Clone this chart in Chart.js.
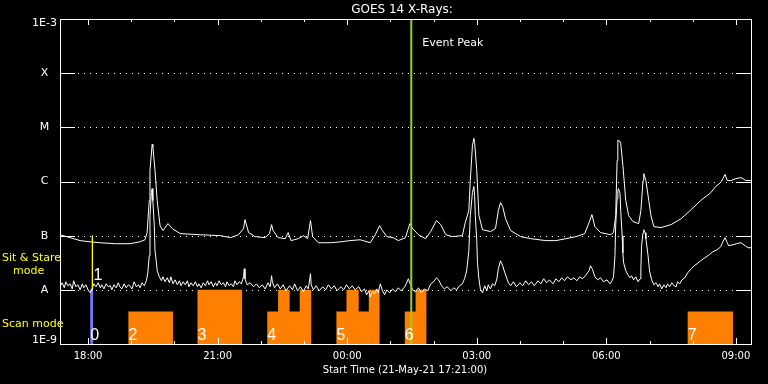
<!DOCTYPE html>
<html>
<head>
<meta charset="utf-8">
<title>GOES 14 X-Rays</title>
<script src="https://cdn.jsdelivr.net/npm/chart.js@4/dist/chart.umd.min.js"></script>
<style>
  html, body { margin: 0; padding: 0; background: #000; }
  #wrap { width: 768px; height: 384px; position: relative; }
</style>
</head>
<body>
<div id="wrap"><canvas id="chartGoes"></canvas></div>
<script>
(function () {
  // time axis: minutes after the start time 21-May-21 17:21:00
  const startLabel = "Start Time (21-May-21 17:21:00)";
  const spanMin = 960;

  // [minutes, W/m^2] - 1-8 A channel (upper curve)
  const longChannel = [[0,1.04e-7],[14,9.2e-8],[28,8.1e-8],[42,7.7e-8],[56,7.4e-8],[77,7.1e-8],[97,7.1e-8],[111,7.7e-8],[118,8.4e-8],[121,1.14e-7],[124,4.45e-7],[125,1.59e-6],[128,4.84e-6],[129,4.4e-6],[132,1.59e-6],[135,4.45e-7],[139,1.53e-7],[143,1.24e-7],[150,1.67e-7],[156,1.35e-7],[167,1.09e-7],[195,1.04e-7],[223,1.0e-7],[237,9.2e-8],[248,1.04e-7],[255,1.35e-7],[257,1.98e-7],[262,1.14e-7],[271,9.6e-8],[285,9.2e-8],[291,1.09e-7],[294,1.6e-7],[296,1.24e-7],[303,9.2e-8],[313,8.8e-8],[317,1.14e-7],[321,8.1e-8],[331,8.8e-8],[338,1.0e-7],[344,8.8e-8],[348,1.9e-7],[351,9.6e-8],[359,7.4e-8],[376,7.4e-8],[390,7.7e-8],[403,8.1e-8],[417,8.4e-8],[431,7.4e-8],[438,1.04e-7],[444,1.53e-7],[448,1.24e-7],[454,9.6e-8],[463,9.2e-8],[470,8.1e-8],[480,9.2e-8],[486,1.67e-7],[490,1.35e-7],[498,1.04e-7],[508,8.8e-8],[515,1.19e-7],[523,1.9e-7],[529,1.6e-7],[536,1.04e-7],[545,9.6e-8],[559,1.0e-7],[563,1.74e-7],[568,2.9e-7],[570,1.04e-6],[573,4.64e-6],[575,6.26e-6],[576,5.27e-6],[579,1.59e-6],[582,2.35e-7],[587,1.29e-7],[598,1.19e-7],[605,1.35e-7],[609,2.9e-7],[612,4.08e-7],[615,3.44e-7],[619,2.06e-7],[626,1.24e-7],[640,9.6e-8],[654,8.8e-8],[675,8.1e-8],[689,8.1e-8],[703,8.8e-8],[717,9.6e-8],[729,1.09e-7],[735,1.74e-7],[739,2.45e-7],[743,1.47e-7],[751,1.14e-7],[765,1.04e-7],[769,1.14e-7],[772,2.35e-7],[774,2.44e-6],[775,5.75e-6],[778,5.5e-6],[779,5.0e-6],[782,1.99e-6],[786,4.45e-7],[790,2.35e-7],[796,1.82e-7],[804,1.67e-7],[807,2.9e-7],[810,1.04e-6],[811,1.4e-6],[814,1.04e-6],[818,4.45e-7],[821,2.35e-7],[825,1.47e-7],[835,1.41e-7],[849,1.6e-7],[863,2.06e-7],[877,3.03e-7],[890,4.45e-7],[904,6.2e-7],[911,8.1e-7],[918,9.6e-7],[921,1.13e-6],[924,1.35e-6],[927,1.04e-6],[932,1.04e-6],[939,1.13e-6],[946,1.18e-6],[953,1.04e-6],[960,1.04e-6]];

  // [minutes, W/m^2] - 0.5-4 A channel (lower curve)
  const shortChannel = [[0,1.14e-8],[3,1.35e-8],[6,1.09e-8],[8,1.41e-8],[11,1.19e-8],[14,1.29e-8],[17,1.04e-8],[19,1.47e-8],[22,1.14e-8],[25,1.24e-8],[28,1.0e-8],[31,1.29e-8],[33,1.09e-8],[36,1.24e-8],[39,1.0e-8],[42,8.8e-9],[45,1.09e-8],[47,1.29e-8],[50,1.14e-8],[53,1.35e-8],[56,1.09e-8],[58,1.24e-8],[61,1.04e-8],[64,1.29e-8],[67,1.14e-8],[70,1.19e-8],[72,1.0e-8],[75,1.24e-8],[78,1.09e-8],[81,1.35e-8],[83,1.14e-8],[86,1.04e-8],[89,1.29e-8],[92,1.09e-8],[95,1.24e-8],[97,1.19e-8],[100,1.04e-8],[103,1.41e-8],[106,1.14e-8],[109,1.24e-8],[111,1.09e-8],[114,1.35e-8],[117,1.19e-8],[120,1.47e-8],[122,2.06e-8],[124,4.26e-8],[125,2.35e-7],[127,6.26e-7],[128,7.4e-7],[129,4.44e-7],[131,1.53e-7],[132,5.27e-8],[134,3.16e-8],[135,2.25e-8],[138,1.74e-8],[141,1.47e-8],[143,1.74e-8],[146,1.41e-8],[149,1.67e-8],[152,1.35e-8],[154,1.74e-8],[157,1.29e-8],[160,1.53e-8],[163,1.24e-8],[166,1.47e-8],[168,1.19e-8],[171,1.41e-8],[174,1.24e-8],[177,1.47e-8],[179,1.14e-8],[182,1.35e-8],[185,1.19e-8],[188,1.41e-8],[191,1.14e-8],[193,1.29e-8],[196,1.09e-8],[199,1.35e-8],[202,1.19e-8],[205,1.47e-8],[207,1.24e-8],[210,1.41e-8],[213,1.14e-8],[216,1.35e-8],[218,1.19e-8],[221,1.47e-8],[224,1.24e-8],[227,1.35e-8],[230,1.14e-8],[232,1.41e-8],[235,1.19e-8],[238,1.29e-8],[241,1.14e-8],[243,1.47e-8],[246,1.24e-8],[249,1.41e-8],[252,1.29e-8],[255,1.74e-8],[256,2.45e-8],[257,1.6e-8],[260,1.24e-8],[264,1.35e-8],[269,1.14e-8],[273,1.29e-8],[277,1.09e-8],[281,1.24e-8],[285,1.04e-8],[289,1.35e-8],[292,1.14e-8],[294,1.82e-8],[295,1.41e-8],[298,1.09e-8],[302,1.29e-8],[306,1.04e-8],[310,1.24e-8],[314,9.6e-9],[319,1.19e-8],[323,1.0e-8],[326,1.29e-8],[330,9.6e-9],[334,1.14e-8],[338,9.2e-9],[342,1.19e-8],[345,1.04e-8],[348,1.98e-8],[349,1.24e-8],[352,1.0e-8],[356,1.19e-8],[360,9.6e-9],[365,1.14e-8],[369,1.0e-8],[373,1.24e-8],[377,1.04e-8],[381,1.19e-8],[385,9.6e-9],[390,1.14e-8],[394,1.0e-8],[398,1.24e-8],[402,1.04e-8],[406,1.19e-8],[410,1.0e-8],[415,1.14e-8],[419,9.2e-9],[423,1.04e-8],[426,8.1e-9],[429,9.6e-9],[431,7.4e-9],[434,9.2e-9],[437,8.4e-9],[440,1.04e-8],[442,8.8e-9],[445,1.29e-8],[448,9.6e-9],[451,8.1e-9],[454,1.0e-8],[458,8.8e-9],[462,1.04e-8],[466,9.2e-9],[470,1.09e-8],[474,9.6e-9],[479,1.14e-8],[481,1.29e-8],[484,1.6e-8],[487,1.24e-8],[490,1.0e-8],[494,9.2e-9],[498,1.09e-8],[502,8.8e-9],[506,1.04e-8],[511,9.6e-9],[515,1.29e-8],[519,1.41e-8],[523,1.67e-8],[526,1.53e-8],[530,1.19e-8],[534,1.04e-8],[538,1.14e-8],[543,9.6e-9],[547,1.09e-8],[551,1.0e-8],[555,1.19e-8],[559,1.29e-8],[562,1.6e-8],[565,2.25e-8],[568,5.27e-8],[570,2.35e-7],[573,6.26e-7],[575,8.06e-7],[576,5.5e-7],[577,2.35e-7],[579,8.08e-8],[580,3.16e-8],[582,1.6e-8],[584,1.04e-8],[587,8.8e-9],[590,1.19e-8],[593,9.6e-9],[595,1.24e-8],[598,1.04e-8],[601,1.29e-8],[604,1.19e-8],[607,1.6e-8],[609,2.45e-8],[612,3.44e-8],[615,2.78e-8],[618,2.06e-8],[621,1.6e-8],[623,1.35e-8],[626,1.19e-8],[630,1.41e-8],[634,1.14e-8],[639,1.35e-8],[643,1.19e-8],[647,1.47e-8],[651,1.24e-8],[655,1.41e-8],[659,1.19e-8],[664,1.47e-8],[668,1.29e-8],[672,1.6e-8],[676,1.35e-8],[680,1.53e-8],[685,1.29e-8],[689,1.6e-8],[693,1.41e-8],[697,1.67e-8],[701,1.47e-8],[705,1.74e-8],[710,1.53e-8],[714,1.67e-8],[718,1.47e-8],[722,1.74e-8],[726,1.6e-8],[730,1.82e-8],[735,2.25e-8],[737,2.78e-8],[740,2.35e-8],[743,1.74e-8],[747,1.53e-8],[751,1.67e-8],[755,1.41e-8],[760,1.53e-8],[764,1.29e-8],[767,1.47e-8],[769,1.74e-8],[771,4.26e-8],[772,1.53e-7],[774,4.84e-7],[775,6.81e-7],[776,7.4e-7],[778,6.0e-7],[779,2.9e-7],[781,1.0e-7],[782,4.84e-8],[783,3.16e-8],[786,2.25e-8],[789,1.9e-8],[792,1.67e-8],[794,1.82e-8],[797,1.53e-8],[800,1.74e-8],[803,1.41e-8],[806,1.6e-8],[807,2.45e-8],[808,6.52e-8],[810,1.13e-7],[811,1.29e-7],[813,1.13e-7],[814,8.79e-8],[817,4.26e-8],[819,2.25e-8],[822,1.53e-8],[825,1.24e-8],[828,1.35e-8],[831,1.14e-8],[833,1.29e-8],[836,1.04e-8],[839,1.24e-8],[842,1.09e-8],[844,1.29e-8],[847,1.14e-8],[850,1.35e-8],[853,1.19e-8],[856,1.14e-8],[858,1.41e-8],[861,1.29e-8],[864,1.53e-8],[868,1.67e-8],[872,2.06e-8],[877,2.45e-8],[881,2.78e-8],[885,3.03e-8],[890,3.44e-8],[896,3.91e-8],[902,4.45e-8],[907,5.05e-8],[913,5.5e-8],[918,6.25e-8],[921,7.74e-8],[924,9.18e-8],[927,7.42e-8],[929,6.52e-8],[935,6.81e-8],[940,7.11e-8],[946,7.42e-8],[952,6.52e-8],[956,5.99e-8],[960,5.99e-8]];

  // observing modes: [minutes, level]; level holds until next entry
  const scanMode = [[0,0],[95,0.6],[157,0],[191,1],[253,0],[288,0.6],[303,1],[319,0.6],[333,1],[349,0],[384,0.6],[398,1],[415,0.6],[429,1],[444,0],[479,0.6],[494,1],[509,0],[872,0.6],[935,0],[960,0]];
  const stareMode = [[0,0],[42,1],[46,0],[960,0]];
  const blockNums = ["0", "2", "3", "4", "5", "6", "7"];
  const blockStart = [42, 95, 191, 288, 384, 479, 872];

  const sitLineMin = 45;
  const sitLineNum = "1";
  const sitLineRange = [1e-7, 1e-8];
  const eventPeakMin = 488;

  const yTickValues = [1e-3, 1e-4, 1e-5, 1e-6, 1e-7, 1e-8, 1e-9];
  const yTickLabels = ["1E-3", "X", "M", "C", "B", "A", "1E-9"];
  const xTickMin = [39, 99, 159, 219, 279, 339, 399, 459, 519, 579, 639, 699, 759, 819, 879, 939];
  const xTickLabels = ["18:00", "", "", "21:00", "", "", "00:00", "", "", "03:00", "", "", "06:00", "", "", "09:00"];

  const WHITE = "#ffffff";
  const YELLOW = "#ffff00";
  const FONT = "'DejaVu Sans', sans-serif";

  function pts(arr) {
    return arr.map(function (p) { return { x: p[0], y: p[1] }; });
  }

  const goesAxes = {
    id: "goesAxes",
    beforeDatasetsDraw: function (chart) {
      const ctx = chart.ctx, a = chart.chartArea, ys = chart.scales.y;
      ctx.save();
      ctx.strokeStyle = WHITE;
      ctx.lineWidth = 1;
      ctx.setLineDash([1, 5]);
      yTickValues.slice(1, -1).forEach(function (v) {
        const y = Math.round(ys.getPixelForValue(v)) + 0.5;
        ctx.beginPath();
        ctx.moveTo(a.left + 18, y);
        ctx.lineTo(a.right - 15, y);
        ctx.stroke();
      });
      ctx.restore();
    },
    afterDatasetsDraw: function (chart) {
      const ctx = chart.ctx, a = chart.chartArea;
      const xs = chart.scales.x, ys = chart.scales.y;
      ctx.save();
      ctx.strokeStyle = WHITE;
      ctx.lineWidth = 1;

      // frame
      ctx.strokeRect(a.left + 0.5, a.top + 0.5, a.right - a.left, a.bottom - a.top);

      // y ticks on both sides
      yTickValues.slice(1, -1).forEach(function (v) {
        const y = Math.round(ys.getPixelForValue(v)) + 0.5;
        ctx.beginPath();
        ctx.moveTo(a.left, y); ctx.lineTo(a.left + 15, y);
        ctx.moveTo(a.right - 15, y); ctx.lineTo(a.right + 1, y);
        ctx.stroke();
      });

      // x ticks top and bottom
      xTickMin.forEach(function (m, i) {
        const x = Math.round(xs.getPixelForValue(m)) + 0.5;
        const len = xTickLabels[i] ? 6 : 3;
        ctx.beginPath();
        ctx.moveTo(x, a.bottom); ctx.lineTo(x, a.bottom - len);
        ctx.moveTo(x, a.top); ctx.lineTo(x, a.top + len);
        ctx.stroke();
      });

      ctx.fillStyle = WHITE;
      ctx.textBaseline = "middle";
      ctx.textAlign = "center";

      ctx.font = "10px " + FONT;
      xTickMin.forEach(function (m, i) {
        if (xTickLabels[i]) ctx.fillText(xTickLabels[i], xs.getPixelForValue(m), a.bottom + 12);
      });
      ctx.fillText(startLabel, 405, a.bottom + 26);

      ctx.font = "11px " + FONT;
      yTickValues.forEach(function (v, i) {
        const y = ys.getPixelForValue(v);
        ctx.textBaseline = i === 0 ? "top" : (i === yTickValues.length - 1 ? "bottom" : "middle");
        ctx.fillText(yTickLabels[i], 44.5, i === 0 ? y - 1 : (i === yTickValues.length - 1 ? y + 2 : y));
      });

      ctx.textBaseline = "middle";
      ctx.font = "12px " + FONT;
      ctx.fillText("GOES 14 X-Rays:", 402, 10);

      ctx.textAlign = "left";
      ctx.font = "11px " + FONT;
      ctx.fillText("Event Peak", xs.getPixelForValue(eventPeakMin) + 11, 43);

      ctx.fillStyle = YELLOW;
      ctx.fillText("Sit & Stare", 2, 258);
      ctx.fillText("mode", 13, 271);
      ctx.fillText("Scan mode", 2, 324);

      // block numbers
      ctx.fillStyle = WHITE;
      ctx.textBaseline = "alphabetic";
      ctx.font = "16px 'Liberation Sans', sans-serif";
      blockNums.forEach(function (n, i) {
        ctx.fillText(n, xs.getPixelForValue(blockStart[i]), a.bottom - 4);
      });
      ctx.fillText(sitLineNum, xs.getPixelForValue(sitLineMin) + 1, ys.getPixelForValue(sitLineRange[1]) - 10);

      ctx.restore();
    }
  };

  new Chart(document.getElementById("chartGoes"), {
    type: "line",
    data: {
      datasets: [
        {
          label: "Event Peak",
          data: [{ x: eventPeakMin, y: 1e-9 }, { x: eventPeakMin, y: 1e-3 }],
          borderColor: "#9acd1e",
          borderWidth: 2,
          order: 0
        },
        {
          label: "Sit & Stare",
          data: [{ x: sitLineMin, y: sitLineRange[0] }, { x: sitLineMin, y: sitLineRange[1] }],
          borderColor: YELLOW,
          borderWidth: 1,
          order: 1
        },
        {
          label: "1.0-8.0 A",
          data: pts(longChannel),
          borderColor: WHITE,
          borderWidth: 1,
          order: 2
        },
        {
          label: "0.5-4.0 A",
          data: pts(shortChannel),
          borderColor: WHITE,
          borderWidth: 1,
          order: 2
        },
        {
          label: "Sit & Stare block",
          data: pts(stareMode),
          yAxisID: "yMode",
          stepped: true,
          fill: "origin",
          backgroundColor: "#7878ff",
          borderColor: "rgba(0,0,0,0)",
          borderWidth: 0,
          order: 3
        },
        {
          label: "Scan block",
          data: pts(scanMode),
          yAxisID: "yMode",
          stepped: true,
          fill: "origin",
          backgroundColor: "#ff8000",
          borderColor: "rgba(0,0,0,0)",
          borderWidth: 0,
          order: 4
        }
      ]
    },
    options: {
      responsive: true,
      maintainAspectRatio: false,
      animation: false,
      devicePixelRatio: 1,
      layout: { padding: { left: 60, right: 17, top: 19, bottom: 40 } },
      elements: { point: { radius: 0 }, line: { tension: 0 } },
      plugins: { legend: { display: false }, tooltip: { enabled: false } },
      scales: {
        x: { type: "linear", min: 0, max: spanMin, display: false },
        y: { type: "logarithmic", min: 1e-9, max: 1e-3, display: false },
        yMode: { type: "linear", min: 0, max: 6, display: false }
      }
    },
    plugins: [goesAxes]
  });
})();
</script>
</body>
</html>
